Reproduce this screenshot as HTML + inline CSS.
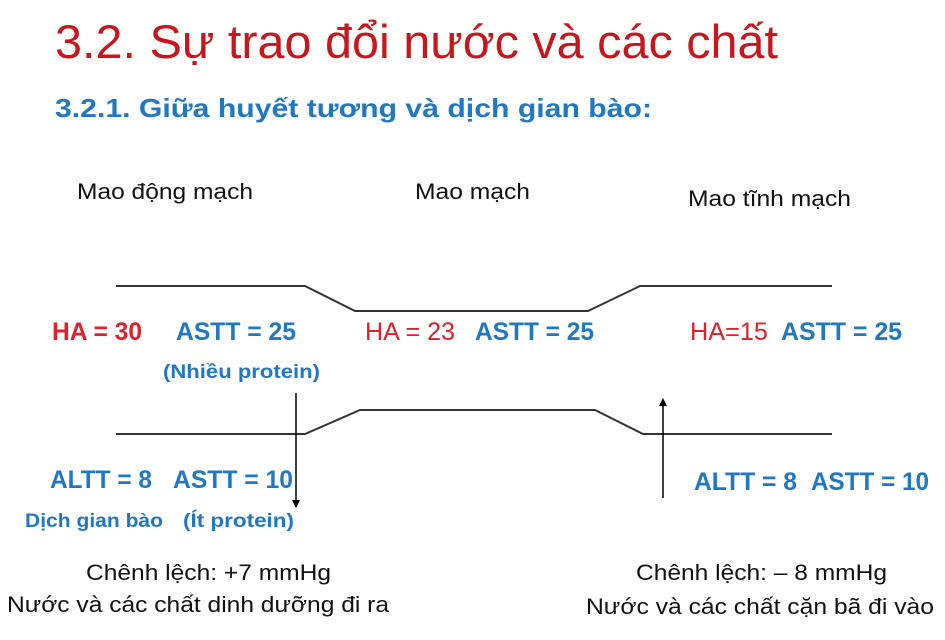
<!DOCTYPE html>
<html><head><meta charset="utf-8"><style>
html,body{margin:0;padding:0;background:#fff;}
svg{display:block;}
text{font-family:"Liberation Sans",sans-serif;}
</style></head><body>
<svg width="945" height="640" viewBox="0 0 945 640" xmlns="http://www.w3.org/2000/svg">
<defs><marker id="ah" markerWidth="8" markerHeight="8" refX="4" refY="4" orient="auto" markerUnits="userSpaceOnUse"><path d="M0,0 L8,4 L0,8 z" fill="#000"/></marker></defs>
<text x="55" y="58" font-size="47" fill="#c8161d" textLength="723" lengthAdjust="spacingAndGlyphs">3.2. Sự trao đổi nước và các chất</text>
<text x="55" y="117" font-size="26" font-weight="bold" fill="#1f78c1" textLength="597" lengthAdjust="spacingAndGlyphs">3.2.1. Giữa huyết tương và dịch gian bào:</text>

<text x="77" y="199" font-size="22" fill="#111" textLength="176" lengthAdjust="spacingAndGlyphs">Mao động mạch</text>
<text x="415" y="199" font-size="22" fill="#111" textLength="115" lengthAdjust="spacingAndGlyphs">Mao mạch</text>
<text x="688" y="206" font-size="22" fill="#111" textLength="163" lengthAdjust="spacingAndGlyphs">Mao tĩnh mạch</text>

<polyline points="116,286 305,286 355,311 588,311 640,286 832,286" fill="none" stroke="#333" stroke-width="2"/>
<polyline points="116,434 305,434 360,410 595,410 643,434 832,434" fill="none" stroke="#333" stroke-width="2"/>
<line x1="296" y1="393" x2="296" y2="504" stroke="#000" stroke-width="1.5" marker-end="url(#ah)"/>
<line x1="663" y1="498" x2="663" y2="402" stroke="#000" stroke-width="1.5" marker-end="url(#ah)"/>

<g font-size="25">
<text x="52" y="340" font-weight="bold" fill="#e0202a" textLength="90" lengthAdjust="spacingAndGlyphs">HA = 30</text>
<text x="176" y="340" font-weight="bold" fill="#1f78c1" textLength="120" lengthAdjust="spacingAndGlyphs">ASTT = 25</text>
<text x="365" y="340" fill="#e0202a" textLength="90" lengthAdjust="spacingAndGlyphs">HA = 23</text>
<text x="475" y="340" font-weight="bold" fill="#1f78c1" textLength="119" lengthAdjust="spacingAndGlyphs">ASTT = 25</text>
<text x="690" y="340" fill="#e0202a" textLength="78" lengthAdjust="spacingAndGlyphs">HA=15</text>
<text x="781" y="340" font-weight="bold" fill="#1f78c1" textLength="121" lengthAdjust="spacingAndGlyphs">ASTT = 25</text>
<text x="50" y="488" font-weight="bold" fill="#1f78c1" textLength="102" lengthAdjust="spacingAndGlyphs">ALTT = 8</text>
<text x="173" y="488" font-weight="bold" fill="#1f78c1" textLength="120" lengthAdjust="spacingAndGlyphs">ASTT = 10</text>
<text x="694" y="490" font-weight="bold" fill="#1f78c1" textLength="103" lengthAdjust="spacingAndGlyphs">ALTT = 8</text>
<text x="811" y="490" font-weight="bold" fill="#1f78c1" textLength="118" lengthAdjust="spacingAndGlyphs">ASTT = 10</text>
</g>
<g font-size="19" font-weight="bold" fill="#1f78c1">
<text x="163" y="378" textLength="157" lengthAdjust="spacingAndGlyphs">(Nhiều protein)</text>
<text x="25" y="527" textLength="138" lengthAdjust="spacingAndGlyphs">Dịch gian bào</text>
<text x="183" y="527" textLength="111" lengthAdjust="spacingAndGlyphs">(Ít protein)</text>
</g>
<g font-size="22" fill="#111">
<text x="86" y="580" textLength="245" lengthAdjust="spacingAndGlyphs">Chênh lệch: +7 mmHg</text>
<text x="7" y="612" textLength="382" lengthAdjust="spacingAndGlyphs">Nước và các chất dinh dưỡng đi ra</text>
<text x="636" y="580" textLength="251" lengthAdjust="spacingAndGlyphs">Chênh lệch: – 8 mmHg</text>
<text x="586" y="614" textLength="348" lengthAdjust="spacingAndGlyphs">Nước và các chất cặn bã đi vào</text>
</g>
</svg>
</body></html>
